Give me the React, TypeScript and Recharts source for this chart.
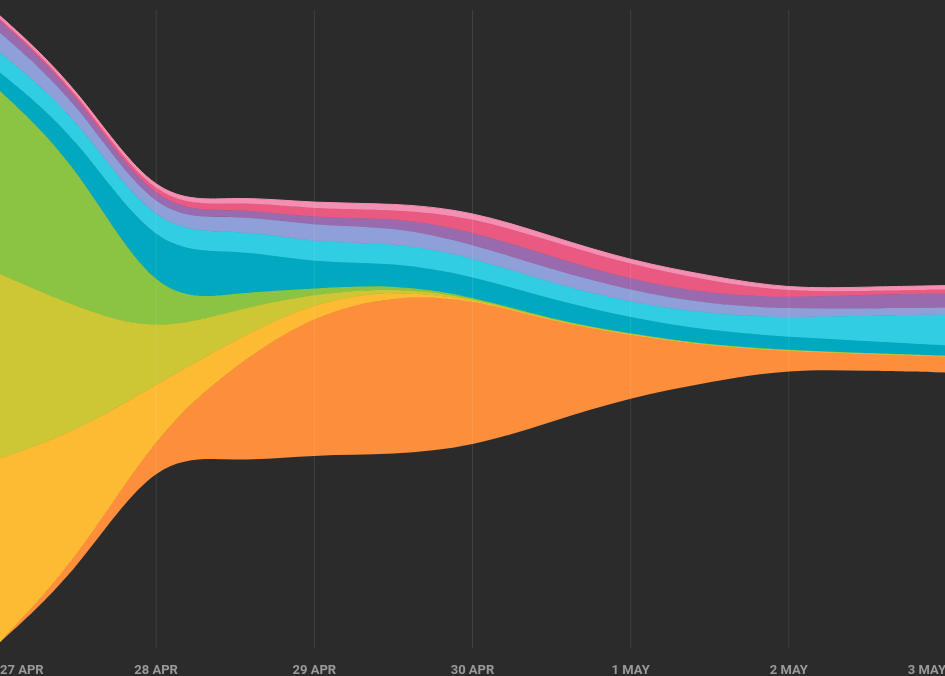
import { AreaChart, Area, XAxis, YAxis, ReferenceLine } from 'recharts'

// half-day samples, 0 = 27 APR
const days = [0, 0.5, 1, 1.5, 2, 2.5, 3, 3.5, 4, 4.5, 5, 5.5, 6]
const dayLabels = ['27 APR', '28 APR', '29 APR', '30 APR', '1 MAY', '2 MAY', '3 MAY']
const dayTicks = [0, 1, 2, 3, 4, 5, 6]

// layers, bottom to top
const orange = [0, 12, 20, 98, 140, 160, 148, 100, 62, 36, 18, 17, 16]
const amber = [185, 129, 48, 25, 13, 5, 1, 0.6, 0.5, 0.3, 0.3, 0.3, 0.3]
const olive = [186, 124, 52, 30, 8, 3, 1, 0.7, 0.5, 0.3, 0.3, 0.3, 0.3]
const green = [184, 145, 28, 17, 5, 3, 1, 0.7, 0.5, 0.3, 0.3, 0.3, 0.3]
const teal = [18, 27, 50, 44, 25, 22, 20, 20, 16, 14, 13, 12, 10]
const cyan = [20, 20, 20, 20, 20, 20, 19, 16, 15, 17, 19, 26, 31]
const lavender = [20, 16, 12, 15, 17, 16, 13, 14, 12, 10, 9, 7, 7]
const purple = [12, 8, 9, 6, 8, 9, 13, 13, 11, 10, 11, 14, 14]
const rose = [2, 3, 4, 7, 9, 8, 14, 15, 15, 13, 6, 3, 4]
const pink = [3, 3, 4, 5, 6, 6, 6, 5, 4, 5, 3, 4, 4]

const layers = [
  { key: 'orange', values: orange, color: '#fd8e3c' },
  { key: 'amber', values: amber, color: '#fdbb33' },
  { key: 'olive', values: olive, color: '#cdc635' },
  { key: 'green', values: green, color: '#8bc443' },
  { key: 'teal', values: teal, color: '#00a9bf' },
  { key: 'cyan', values: cyan, color: '#30cde3' },
  { key: 'lavender', values: lavender, color: '#8fa0d8' },
  { key: 'purple', values: purple, color: '#9a6aae' },
  { key: 'rose', values: rose, color: '#ea5a80' },
  { key: 'pink', values: pink, color: '#f48fb3' },
]

const data = days.map((day, i) => {
  const row: Record<string, number> = { day }
  layers.forEach(l => { row[l.key] = l.values[i] })
  return row
})

function DayTick({ x, payload, index }: any) {
  const last = index === dayTicks.length - 1
  const anchor = index === 0 ? 'start' : last ? 'end' : 'middle'
  const dx = index === 0 ? 2 : last ? -1 : 0
  return (
    <text x={x + dx} y={674} textAnchor={anchor} fill="#9a9a9a" fontSize={13} fontWeight={700}
      fontFamily='Roboto, "Liberation Sans", sans-serif'>
      {dayLabels[payload.value]}
    </text>
  )
}

export default function App() {
  return (
    <div style={{ position: 'fixed', inset: 0, background: '#2b2b2b' }}>
      <div style={{ position: 'absolute', left: -2, top: 0 }}>
        <AreaChart width={949} height={676} data={data} stackOffset="silhouette"
          margin={{ top: 10, right: 0, bottom: 0, left: 0 }}>
          <XAxis type="number" dataKey="day" domain={[0, 6]} ticks={dayTicks} tick={<DayTick />}
            axisLine={false} tickLine={false} height={28} interval={0} />
          <YAxis hide domain={[-319, 319]} allowDataOverflow />
          {layers.map(l => (
            <Area key={l.key} type="basis" dataKey={l.key} stackId="s" fill={l.color} fillOpacity={1}
              stroke={l.color} strokeWidth={1} isAnimationActive={false} dot={false} activeDot={false} />
          ))}
          {dayTicks.map(d => (
            <ReferenceLine key={d} x={d} stroke="#ffffff" strokeOpacity={0.1} />
          ))}
        </AreaChart>
      </div>
    </div>
  )
}
